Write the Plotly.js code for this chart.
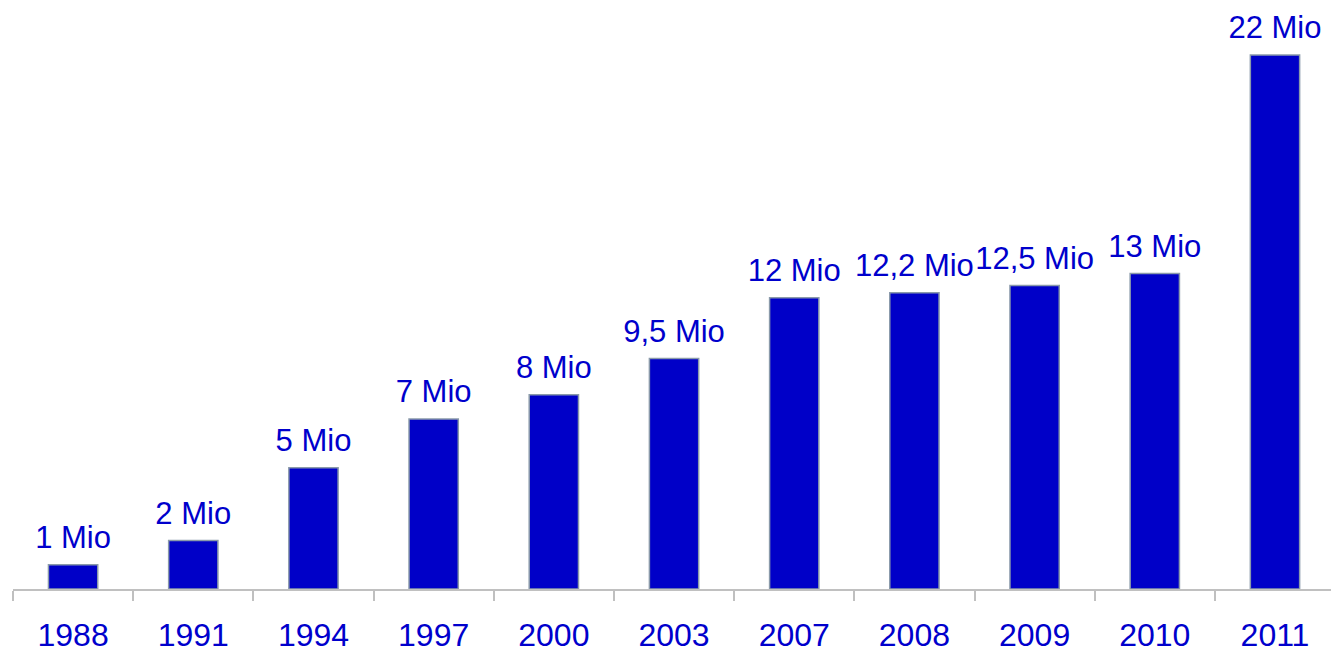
<!DOCTYPE html>
<html>
<head>
<meta charset="utf-8">
<script src="https://cdn.plot.ly/plotly-3.0.1.min.js"></script>
<style>html,body{margin:0;padding:0;background:#fff;overflow:hidden}#chart{width:1331px;height:654px}</style>
</head>
<body>
<div id="chart"></div>
<script>
const years = ['1988','1991','1994','1997','2000','2003','2007','2008','2009','2010','2011'];
const values = [1, 2, 5, 7, 8, 9.5, 12, 12.2, 12.5, 13, 22];
const labels = ['1 Mio','2 Mio','5 Mio','7 Mio','8 Mio','9,5 Mio','12 Mio','12,2 Mio','12,5 Mio','13 Mio','22 Mio'];

const blue = '#0000C8';
const textBlue = '#0000CC';
const font = 'Liberation Sans, Arial, sans-serif';

const bars = {
  type: 'bar',
  x: years,
  y: values,
  width: 0.41,
  marker: {color: blue, line: {color: '#8A9AAA', width: 1.5}},
  hoverinfo: 'skip'
};

const valueLabels = {
  type: 'scatter',
  mode: 'markers+text',
  x: years,
  y: values,
  text: labels,
  textposition: 'top center',
  textfont: {family: font, size: 31, color: textBlue},
  marker: {size: 13, color: 'rgba(0,0,0,0)'},
  cliponaxis: false,
  hoverinfo: 'skip'
};

const layout = {
  width: 1331, height: 654,
  margin: {l: 13, r: 0, t: 20, b: 65},
  paper_bgcolor: '#fff', plot_bgcolor: '#fff',
  showlegend: false,
  xaxis: {
    type: 'category',
    range: [-0.5, 10.466],
    tickson: 'boundaries',
    ticks: 'outside', ticklen: 10, tickwidth: 2, tickcolor: '#C0C0C0',
    showline: true, linecolor: '#C0C0C0', linewidth: 2,
    showgrid: false, zeroline: false,
    tickfont: {family: font, size: 32, color: textBlue},
    ticklabelstandoff: 17,
    fixedrange: true
  },
  yaxis: {
    range: [0, 23.44],
    visible: false, showgrid: false, zeroline: false,
    fixedrange: true
  }
};

Plotly.newPlot('chart', [bars, valueLabels], layout, {displayModeBar: false, staticPlot: true});
</script>
</body>
</html>
